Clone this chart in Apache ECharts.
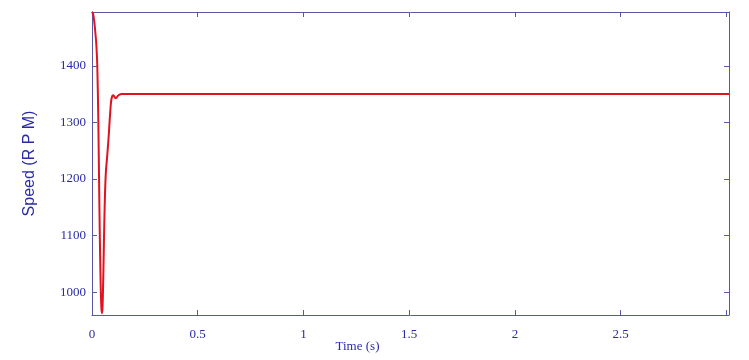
<!DOCTYPE html>
<html><head><meta charset="utf-8">
<script src="https://cdn.jsdelivr.net/npm/echarts@6/dist/echarts.min.js"></script>
<style>html,body{margin:0;padding:0;background:#fff}#c{width:749px;height:360px}</style>
</head><body><div id="c"></div>
<script>
const times  = [0, 0.005, 0.01, 0.015, 0.02, 0.025, 0.03, 0.035, 0.04, 0.044, 0.047, 0.05, 0.054, 0.058, 0.062, 0.066, 0.07, 0.075, 0.08, 0.085, 0.09, 0.095, 0.1, 0.105, 0.11, 0.115, 0.12, 0.13, 0.14, 0.16, 0.2, 0.5, 1.0, 1.5, 2.0, 2.5, 3.0, 3.012];
const speeds = [1495, 1492, 1480, 1462, 1440, 1400, 1300, 1150, 1030, 975, 963, 975, 1040, 1120, 1180, 1215, 1232, 1256, 1282, 1312, 1336, 1346, 1348, 1346, 1343, 1343, 1346, 1349, 1350, 1350, 1350, 1350, 1350, 1350, 1350, 1350, 1350, 1350];
const xTickLabels = ['0', '0.5', '1', '1.5', '2', '2.5'];

const lineCol = '#5858a8', textCol = '#2a2aa8';
const chart = echarts.init(document.getElementById('c'));
const baseX = {
  type: 'value', min: 0, max: 3.012, interval: 0.5,
  axisLine: {show: true, onZero: false, lineStyle: {color: lineCol, width: 1}},
  axisTick: {show: true, inside: true, length: 5, lineStyle: {color: lineCol}},
  splitLine: {show: false}
};
const baseY = {
  type: 'value', min: 960, max: 1495, splitNumber: 5,
  axisLine: {show: true, onZero: false, lineStyle: {color: lineCol, width: 1}},
  axisTick: {show: true, inside: true, length: 5, lineStyle: {color: lineCol}},
  splitLine: {show: false}
};
chart.setOption({
  animation: false,
  grid: {left: 92, right: 20, top: 12, bottom: 45, outerBoundsMode: 'none', containLabel: false},
  xAxis: [
    Object.assign({}, baseX, {
      position: 'bottom',
      name: 'Time (s)', nameLocation: 'middle', nameGap: 25, nameMoveOverlap: false,
      nameTextStyle: {fontFamily: 'Liberation Serif', fontSize: 13, color: textCol, padding: [0, 106, 0, 0]},
      axisLabel: {color: textCol, fontFamily: 'Liberation Serif', fontSize: 13, margin: 13,
        formatter: v => (Math.abs(v * 2 - Math.round(v * 2)) < 1e-6 ? (xTickLabels[Math.round(v * 2)] || '') : '')}
    }),
    Object.assign({}, baseX, {position: 'top', axisLabel: {show: false}})
  ],
  yAxis: [
    Object.assign({}, baseY, {
      position: 'left',
      name: 'Speed (R P M)', nameLocation: 'middle', nameGap: 54, nameMoveOverlap: false,
      nameTextStyle: {fontFamily: 'Liberation Sans', fontSize: 16, color: textCol},
      axisLabel: {color: textCol, fontFamily: 'Liberation Serif', fontSize: 13, margin: 6,
        showMinLabel: false, showMaxLabel: false, formatter: v => String(v)}
    }),
    Object.assign({}, baseY, {position: 'right', axisLabel: {show: false}})
  ],
  series: [{
    type: 'line', data: times.map((t, i) => [t, speeds[i]]),
    showSymbol: false, smooth: 0.3,
    lineStyle: {color: '#e01420', width: 2}
  }]
});
</script></body></html>
